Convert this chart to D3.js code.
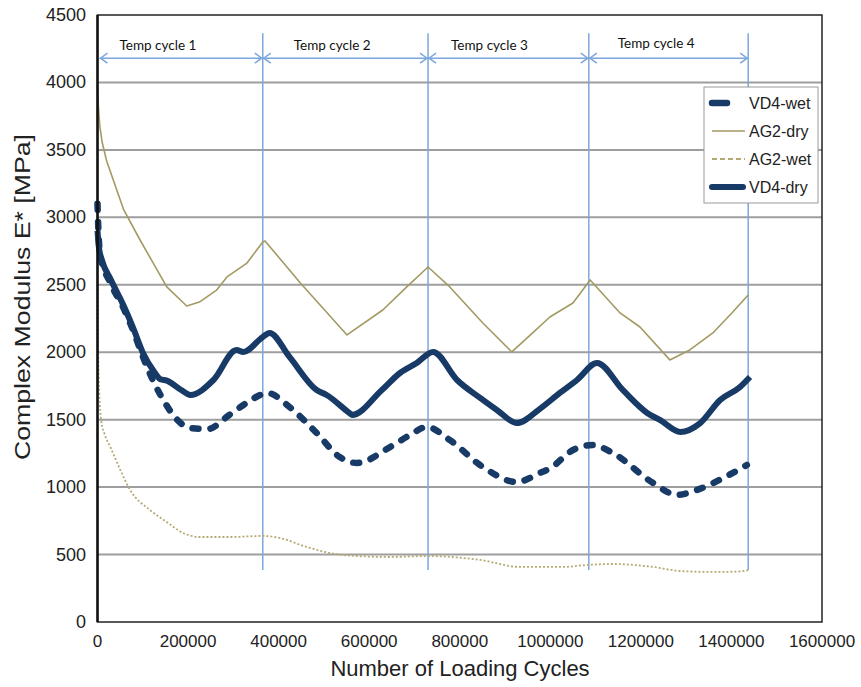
<!DOCTYPE html>
<html>
<head>
<meta charset="utf-8">
<script src="https://cdn.jsdelivr.net/npm/d3@7/dist/d3.min.js"></script>
<style>
  html, body { margin: 0; padding: 0; background: #fff; }
  svg { display: block; }
</style>
</head>
<body>
<div id="chart"></div>
<script>
// ---------- DATA ----------
const seriesNames = ["VD4-wet", "AG2-dry", "AG2-wet", "VD4-dry"];

const vd4WetX = [0, 2000, 6000, 29000, 57000, 80000, 101000, 124000, 150000, 168000, 205000, 243000, 291000, 329000, 365000, 375000, 424000, 484000, 535000, 573000, 646000, 690000, 727000, 778000, 851000, 926000, 977000, 1000000, 1050000, 1094000, 1138000, 1227000, 1280000, 1324000, 1382000, 1434000];
const vd4WetY = [3100, 2900, 2720, 2510, 2330, 2150, 1960, 1780, 1620, 1530, 1438, 1430, 1535, 1624, 1690, 1698, 1594, 1401, 1223, 1179, 1297, 1386, 1446, 1349, 1149, 1038, 1105, 1140, 1275, 1312, 1253, 1031, 942, 979, 1068, 1164];

const vd4DryX = [0, 3000, 10000, 29000, 57000, 80000, 101000, 124000, 139000, 153000, 185000, 205000, 256000, 307000, 322000, 365000, 380000, 424000, 484000, 506000, 556000, 562000, 628000, 668000, 705000, 741000, 794000, 845000, 882000, 926000, 977000, 1021000, 1059000, 1103000, 1160000, 1214000, 1242000, 1287000, 1331000, 1375000, 1419000, 1441000];
const vd4DryY = [2900, 2780, 2680, 2540, 2350, 2170, 1990, 1860, 1800, 1790, 1720, 1683, 1794, 2017, 2002, 2113, 2143, 1965, 1720, 1683, 1550, 1535, 1720, 1846, 1920, 2002, 1794, 1661, 1572, 1475, 1580, 1698, 1794, 1920, 1720, 1550, 1498, 1409, 1475, 1646, 1742, 1816];

const ag2DryX = [0, 2000, 5000, 10000, 20000, 58000, 94000, 153000, 197000, 225000, 263000, 286000, 330000, 365000, 370000, 448000, 551000, 630000, 683000, 730000, 778000, 851000, 915000, 961000, 999000, 1050000, 1088000, 1154000, 1198000, 1264000, 1308000, 1359000, 1403000, 1437000];
const ag2DryY = [3980, 3820, 3680, 3560, 3420, 3055, 2832, 2484, 2343, 2372, 2461, 2558, 2661, 2817, 2825, 2513, 2128, 2313, 2484, 2632, 2484, 2217, 2002, 2143, 2261, 2365, 2536, 2291, 2187, 1943, 2017, 2143, 2298, 2424];

const ag2WetX = [0, 1500, 4000, 8000, 16000, 28000, 50000, 72000, 116000, 153000, 189000, 226000, 292000, 365000, 402000, 462000, 541000, 645000, 727000, 845000, 933000, 1028000, 1081000, 1138000, 1227000, 1287000, 1360000, 1420000, 1437000];
const ag2WetY = [2500, 2000, 1700, 1500, 1390, 1300, 1130, 979, 830, 741, 660, 630, 630, 638, 623, 556, 497, 482, 489, 460, 408, 408, 423, 430, 408, 378, 371, 375, 385];

const xTicks = [0, 200000, 400000, 600000, 800000, 1000000, 1200000, 1400000, 1600000];
const yTicks = [0, 500, 1000, 1500, 2000, 2500, 3000, 3500, 4000, 4500];

// temperature cycle boundaries (loading cycles)
const cycleBounds = [0, 365000, 730000, 1085000, 1437000];
const cycleLabels = ["Temp cycle 1", "Temp cycle 2", "Temp cycle 3", "Temp cycle 4"];

// ---------- LAYOUT ----------
const W = 861, H = 687;
const L = 97.5, R = 822, T = 15, B = 622;

const svg = d3.select("#chart").append("svg").attr("width", W).attr("height", H);

const x = d3.scaleLinear().domain([0, 1600000]).range([L, R]);
const y = d3.scaleLinear().domain([0, 4500]).range([B, T]);

const navy = "#173a66";
const olive = "#a39a62";
const oliveLight = "#b5aa74";
const blueLine = "#7da7dc";

// gridlines
svg.append("g").selectAll("line").data(yTicks.filter(v => v > 0 && v < 4500)).join("line")
  .attr("x1", L).attr("x2", R)
  .attr("y1", d => y(d)).attr("y2", d => y(d))
  .attr("stroke", "#9e9e9e").attr("stroke-width", 2);

// vertical cycle lines
svg.append("g").selectAll("line").data(cycleBounds.slice(1)).join("line")
  .attr("x1", d => x(d)).attr("x2", d => x(d))
  .attr("y1", y(4365)).attr("y2", y(385))
  .attr("stroke", blueLine).attr("stroke-width", 1.5);

// arrows
const arrowY = y(4180);
const ag = svg.append("g").attr("stroke", blueLine).attr("stroke-width", 1.5).attr("fill", "none");
for (let i = 0; i < 4; i++) {
  const x1 = x(cycleBounds[i]) + (i === 0 ? 2 : 0), x2 = x(cycleBounds[i + 1]);
  ag.append("line").attr("x1", x1).attr("x2", x2).attr("y1", arrowY).attr("y2", arrowY);
  ag.append("path").attr("d", `M${x1 + 8},${arrowY - 5}L${x1 + 1},${arrowY}L${x1 + 8},${arrowY + 5}`);
  ag.append("path").attr("d", `M${x2 - 8},${arrowY - 5}L${x2 - 1},${arrowY}L${x2 - 8},${arrowY + 5}`);
}
const labelOffsets = [22, 31, 23, 29];
svg.append("g").selectAll("text").data(cycleLabels).join("text")
  .attr("x", (d, i) => x(cycleBounds[i]) + labelOffsets[i])
  .attr("y", (d, i) => i === 3 ? 48 : 50)
  .attr("font-family", "Lato, 'Open Sans', sans-serif")
  .attr("font-size", 13.5).attr("fill", "#111")
  .text(d => d);

// lines
const mk = (xs, ys) => xs.map((v, i) => [v, ys[i]]);
const lineMono = d3.line().x(d => x(d[0])).y(d => y(d[1])).curve(d3.curveMonotoneX);
const lineLin = d3.line().x(d => x(d[0])).y(d => y(d[1]));

svg.append("path").datum(mk(ag2WetX, ag2WetY)).attr("d", lineMono)
  .attr("fill", "none").attr("stroke", oliveLight).attr("stroke-width", 1.8).attr("stroke-dasharray", "2,2");
svg.append("path").datum(mk(ag2DryX, ag2DryY)).attr("d", lineLin)
  .attr("fill", "none").attr("stroke", olive).attr("stroke-width", 1.6).attr("stroke-linejoin", "round");
svg.append("path").datum(mk(vd4WetX, vd4WetY)).attr("d", lineMono)
  .attr("fill", "none").attr("stroke", navy).attr("stroke-width", 6.5)
  .attr("stroke-linecap", "round").attr("stroke-dasharray", "6,12");
svg.append("path").datum(mk(vd4DryX, vd4DryY)).attr("d", lineMono)
  .attr("fill", "none").attr("stroke", navy).attr("stroke-width", 6)
  .attr("stroke-linejoin", "round");

// frame
svg.append("rect").attr("x", L).attr("y", T).attr("width", R - L).attr("height", B - T)
  .attr("fill", "none").attr("stroke", "#222").attr("stroke-width", 1.5);
svg.append("line").attr("x1", L).attr("x2", L).attr("y1", T).attr("y2", B)
  .attr("stroke", "#111").attr("stroke-width", 2.5);

// tick labels
svg.append("g").selectAll("text").data(yTicks).join("text")
  .attr("x", 86).attr("y", d => y(d) + 6)
  .attr("text-anchor", "end")
  .attr("font-family", "'Liberation Sans', Arial, sans-serif").attr("font-size", 18).attr("fill", "#222")
  .text(d => d);
svg.append("g").selectAll("text").data(xTicks).join("text")
  .attr("x", d => x(d)).attr("y", 647)
  .attr("text-anchor", "middle")
  .attr("font-family", "'Liberation Sans', Arial, sans-serif").attr("font-size", 17).attr("fill", "#222")
  .text(d => d);

// axis titles
svg.append("text").attr("x", 460).attr("y", 676).attr("text-anchor", "middle")
  .attr("font-family", "'Liberation Sans', Arial, sans-serif").attr("font-size", 22).attr("fill", "#222")
  .text("Number of Loading Cycles");
svg.append("text").attr("transform", "translate(30,297) rotate(-90)").attr("text-anchor", "middle")
  .attr("font-family", "'Liberation Sans', Arial, sans-serif").attr("font-size", 22).attr("fill", "#222")
  .attr("textLength", 326).attr("lengthAdjust", "spacingAndGlyphs")
  .text("Complex Modulus E* [MPa]");

// legend
const lg = svg.append("g");
lg.append("rect").attr("x", 704).attr("y", 87).attr("width", 114).attr("height", 116)
  .attr("fill", "#fff").attr("stroke", "#9a9a9a").attr("stroke-width", 1);
const legY = [103, 131, 159, 187];
const legStyles = [
  {stroke: navy, w: 6.5, dash: null, x2: 727, cap: "round"},
  {stroke: olive, w: 1.6, dash: null, x2: 745, cap: "butt"},
  {stroke: oliveLight, w: 1.8, dash: "5,3", x2: 745, cap: "butt"},
  {stroke: navy, w: 6, dash: null, x2: 743, cap: "round"}
];
seriesNames.forEach((name, i) => {
  const s = legStyles[i];
  lg.append("line").attr("x1", 712).attr("x2", s.x2).attr("y1", legY[i]).attr("y2", legY[i])
    .attr("stroke", s.stroke).attr("stroke-width", s.w).attr("stroke-linecap", s.cap)
    .attr("stroke-dasharray", s.dash);
  lg.append("text").attr("x", 749).attr("y", legY[i] + 6)
    .attr("font-family", "'Liberation Sans', Arial, sans-serif").attr("font-size", 16).attr("fill", "#222")
    .text(name);
});
</script>
</body>
</html>
